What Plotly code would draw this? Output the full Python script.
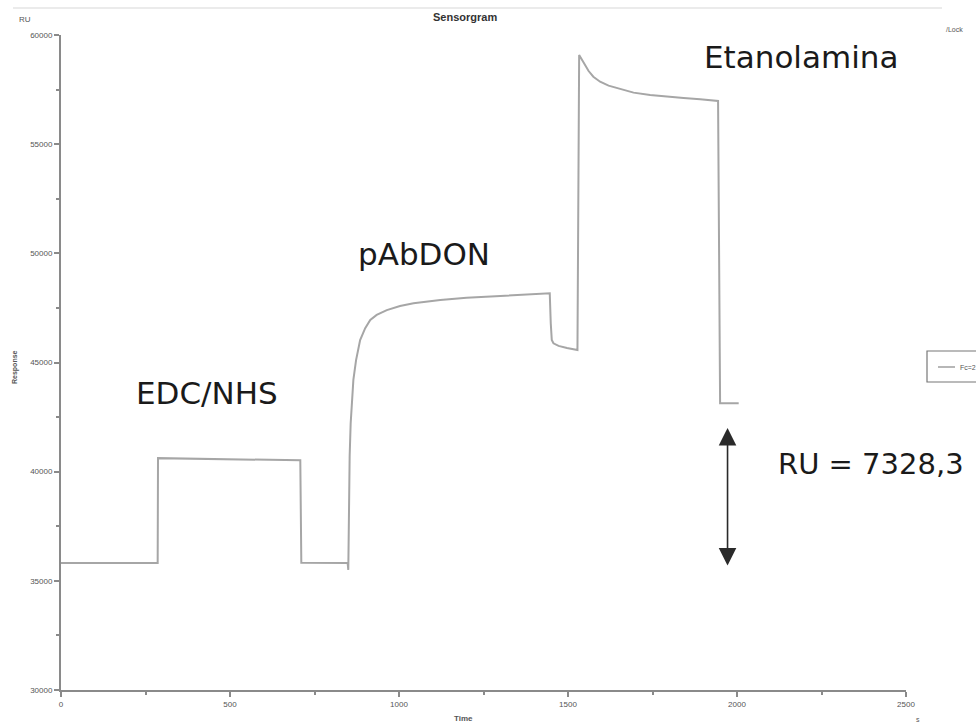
import plotly.graph_objects as go

# Sensorgram data (time in s, response in RU)
time_s = [0, 286, 287, 708, 711, 848, 850, 851, 852, 854, 857, 861, 865, 873,
          885, 900, 915, 934, 964, 1003, 1043, 1122, 1200, 1300, 1400, 1446,
          1449, 1452, 1457, 1472, 1497, 1528, 1533, 1541, 1551, 1561, 1575,
          1595, 1620, 1645, 1669, 1694, 1743, 1793, 1842, 1891, 1944, 1950, 2005]
response_ru = [35820, 35820, 40620, 40520, 35830, 35820, 35500, 37640, 39160,
               40690, 42220, 43280, 44200, 45110, 46030, 46570, 46950, 47180,
               47400, 47590, 47710, 47860, 47960, 48050, 48130, 48170, 46800,
               46030, 45880, 45760, 45660, 45570, 59080, 58860, 58580, 58350,
               58090, 57860, 57680, 57560, 57450, 57360, 57250, 57170, 57115,
               57055, 56980, 43130, 43130]

x_ticks = [0, 500, 1000, 1500, 2000, 2500]
y_ticks = [30000, 35000, 40000, 45000, 50000, 55000, 60000]

step_labels = ["EDC/NHS", "pAbDON", "Etanolamina", "RU = 7328,3"]
label_x = [432, 1074, 2190, 2397]
label_y = [43600, 49990, 58990, 40350]
label_size = [31, 31, 31, 29]

arrow_x = 1972
arrow_top = 42000
arrow_bottom = 35630

axis_color = "#8a8a8a"
tick_font = dict(family="Liberation Sans", size=8, color="#555")

fig = go.Figure()
fig.add_trace(go.Scatter(x=time_s, y=response_ru, mode="lines",
                         line=dict(color="#a6a6a6", width=2),
                         name="Fc=2-1", showlegend=False))

fig.update_layout(
    width=976, height=723,
    margin=dict(l=61, r=70, t=35, b=33),
    paper_bgcolor="white", plot_bgcolor="white",
    xaxis=dict(range=[0, 2500], tickvals=x_ticks, showgrid=False, zeroline=False,
               showline=True, linecolor=axis_color, linewidth=2,
               ticks="outside", ticklen=5, tickcolor=axis_color, tickwidth=1.5,
               tickfont=tick_font,
               minor=dict(dtick=250, ticks="outside", ticklen=3, tickcolor=axis_color)),
    yaxis=dict(range=[30000, 60000], tickvals=y_ticks, showgrid=False, zeroline=False,
               showline=True, linecolor=axis_color, linewidth=2,
               ticks="outside", ticklen=5, tickcolor=axis_color, tickwidth=1.5,
               tickfont=tick_font, tickformat="d",
               minor=dict(dtick=2500, ticks="outside", ticklen=3, tickcolor=axis_color)),
)

# big step labels
for txt, xv, yv, sz in zip(step_labels, label_x, label_y, label_size):
    fig.add_annotation(x=xv, y=yv, xref="x", yref="y", text=txt, showarrow=False,
                       font=dict(family="DejaVu Sans", size=sz, color="#1a1a1a"),
                       xanchor="center", yanchor="middle")

# double-headed arrow
fig.add_annotation(x=arrow_x, y=arrow_top, ax=arrow_x, ay=arrow_bottom,
                   xref="x", yref="y", axref="x", ayref="y", text="",
                   showarrow=True, arrowhead=2, arrowside="end+start",
                   arrowsize=2.2, arrowwidth=1.6, arrowcolor="#2a2a2a")


def px_x(px):
    return (px - 61) / 845


def px_y(py):
    return (690 - py) / 655


small = dict(family="Liberation Sans", color="#555")
chrome = [
    ("<b>Sensorgram</b>", 465, 17, 11, "#333", 0),
    ("RU", 25, 19, 8, "#555", 0),
    ("/Lock", 955, 29, 7, "#555", 0),
    ("<b>Time</b>", 463, 718, 8, "#555", 0),
    ("s", 918, 719, 7, "#555", 0),
    ("<b>Response</b>", 15, 367, 7, "#555", -90),
]
for txt, px, py, sz, col, ang in chrome:
    fig.add_annotation(x=px_x(px), y=px_y(py), xref="paper", yref="paper",
                       text=txt, showarrow=False, textangle=ang,
                       xanchor="center", yanchor="middle",
                       font=dict(family="Liberation Sans", size=sz, color=col))

# legend box (cut at the right edge as in the reference)
fig.add_shape(type="rect", xref="paper", yref="paper",
              x0=px_x(927), x1=px_x(1000), y0=px_y(382), y1=px_y(351),
              line=dict(color="#777", width=1.2), fillcolor="white")
fig.add_shape(type="line", xref="paper", yref="paper",
              x0=px_x(938), x1=px_x(955), y0=px_y(367), y1=px_y(367),
              line=dict(color="#888", width=1.2))
fig.add_annotation(x=px_x(958), y=px_y(367), xref="paper", yref="paper",
                   text="Fc=2", showarrow=False, xanchor="left", yanchor="middle",
                   font=dict(size=7, **small))

# faint frame line at the top
fig.add_shape(type="line", xref="paper", yref="paper",
              x0=px_x(13), x1=px_x(942), y0=px_y(8), y1=px_y(8),
              line=dict(color="#e4e4e4", width=1.5))

fig.write_html("out.html", config={"displayModeBar": False},
               post_script="document.body.style.margin='0';"
                           "document.body.style.overflow='hidden';")
